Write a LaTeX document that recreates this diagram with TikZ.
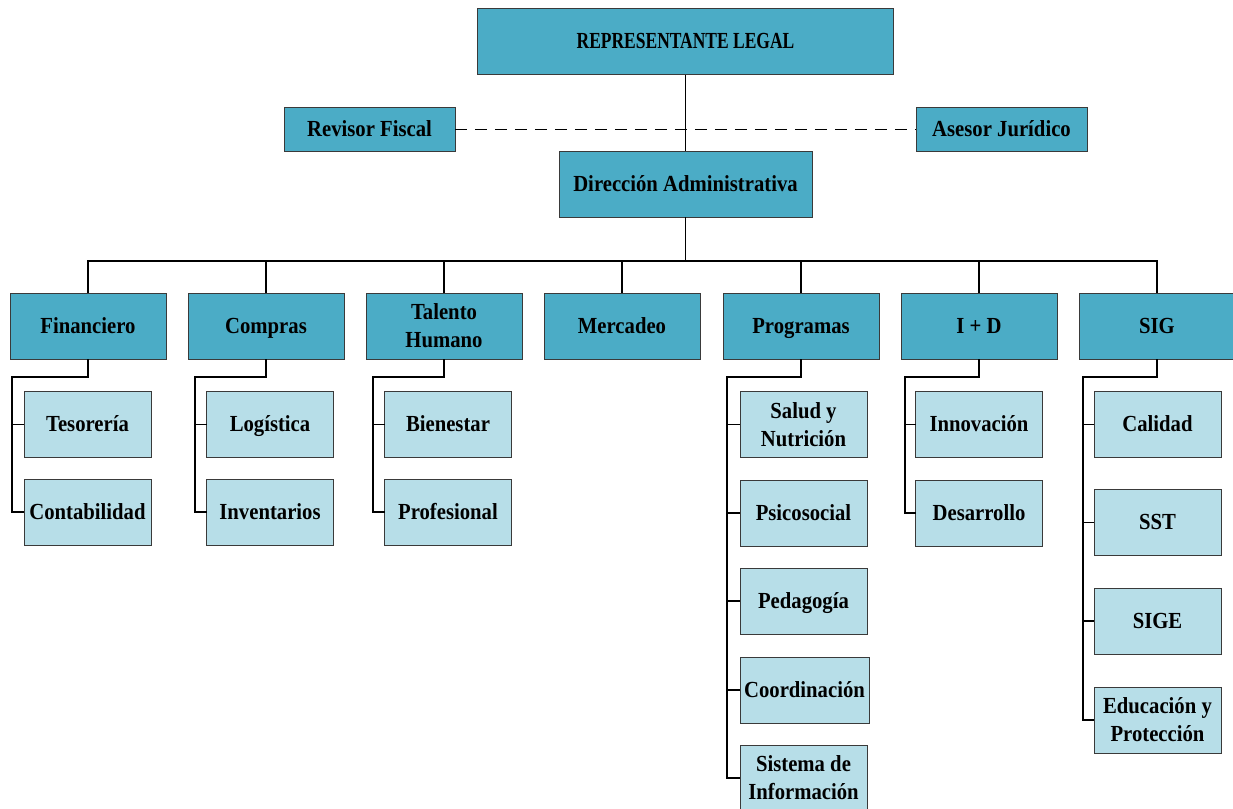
\documentclass[tikz,border=0pt]{standalone}
\usepackage{fontspec}
\setmainfont{Liberation Serif}[FakeStretch=0.9]
\newfontfamily\capsfont{Liberation Serif}[FakeStretch=0.76]
\definecolor{deptfill}{HTML}{4BACC6}
\definecolor{unitfill}{HTML}{B7DEE8}
\definecolor{boxline}{HTML}{3A3A3A}
\begin{document}
\begin{tikzpicture}[x=1pt,y=-1pt,
  box/.style={draw=boxline, line width=0.9pt, inner sep=2pt, outer sep=0pt,
    align=center, font=\fontsize{23}{28}\selectfont\bfseries, text=black,
    text height=18pt, text depth=4pt},
  twoline/.style={text height=, text depth=},
  dept/.style={box, fill=deptfill, minimum width=156pt, minimum height=66pt},
  unit/.style={box, fill=unitfill, minimum width=127pt, minimum height=66pt},
  side/.style={box, fill=deptfill, minimum width=171pt, minimum height=44pt},
  link/.style={line width=1.6pt, black},
  staff/.style={line width=1pt, black, dash pattern=on 12pt off 8pt}]
\useasboundingbox (0,0) rectangle (1233,808);

% top of the chart
\node[box, fill=deptfill, minimum width=416pt, minimum height=66pt,
  font=\fontsize{23}{28}\capsfont\bfseries] (rl) at (685.5,41.5) {REPRESENTANTE LEGAL};
\node[side] (rf) at (369.5,129) {Revisor Fiscal};
\node[side] (aj) at (1001.5,129) {Asesor Jurídico};
\node[box, fill=deptfill, minimum width=253pt, minimum height=66pt] (da) at (685.5,184) {Dirección Administrativa};

\draw[staff] (rf.east) -- (aj.west);
\draw[link] (rl.south) -- (da.north);

% departments
\node[dept] (fin)  at (88,326)   {Financiero};
\node[dept] (com)  at (266,326)  {Compras};
\node[dept, twoline] (tal) at (444,326) {Talento\\Humano};
\node[dept] (mer)  at (622,326)  {Mercadeo};
\node[dept] (prog) at (801,326)  {Programas};
\node[dept] (id)   at (979,326)  {I + D};
\node[dept] (sig)  at (1157,326) {SIG};

\coordinate (bus) at (685.5,261);
\draw[link] (da.south) -- (bus);
\draw[link] (fin.north) |- (bus) -| (sig.north);
\foreach \d in {com,tal,mer,prog,id} \draw[link] (\d.north) -- (\d.north |- bus);

% Financiero
\node[unit] (tes)  at (87.5,424.5) {Tesorería};
\node[unit] (cont) at (87.5,512)   {Contabilidad};
\coordinate (finbr) at (12,377);
\draw[link] (fin.south) |- (finbr) |- (cont.west);
\draw[link] (finbr |- tes.west) -- (tes.west);

% Compras
\node[unit] (log) at (270,424.5) {Logística};
\node[unit] (inv) at (270,512)   {Inventarios};
\coordinate (combr) at (195,377);
\draw[link] (com.south) |- (combr) |- (inv.west);
\draw[link] (combr |- log.west) -- (log.west);

% Talento Humano
\node[unit] (bie) at (448,424.5) {Bienestar};
\node[unit] (pro) at (448,512)   {Profesional};
\coordinate (talbr) at (373,377);
\draw[link] (tal.south) |- (talbr) |- (pro.west);
\draw[link] (talbr |- bie.west) -- (bie.west);

% Programas
\node[unit, twoline] (sal) at (803.5,424.5) {Salud y\\Nutrición};
\node[unit] (psi) at (803.5,513)   {Psicosocial};
\node[unit] (ped) at (803.5,601)   {Pedagogía};
\node[unit, minimum width=129pt] (coo) at (804.5,690) {Coordinación};
\node[unit, twoline] (sis) at (803.5,778) {Sistema de\\Información};
\coordinate (progbr) at (727,377);
\draw[link] (prog.south) |- (progbr) |- (sis.west);
\foreach \u in {sal,psi,ped,coo} \draw[link] (progbr |- \u.west) -- (\u.west);

% I + D
\node[unit] (inn) at (979,424.5) {Innovación};
\node[unit] (des) at (979,513)   {Desarrollo};
\coordinate (idbr) at (905,377);
\draw[link] (id.south) |- (idbr) |- (des.west);
\draw[link] (idbr |- inn.west) -- (inn.west);

% SIG
\node[unit] (cal) at (1157.5,424.5) {Calidad};
\node[unit] (sst) at (1157.5,522.5) {SST};
\node[unit] (sge) at (1157.5,621)   {SIGE};
\node[unit, twoline] (edu) at (1157.5,720) {Educación y\\Protección};
\coordinate (sigbr) at (1083,377);
\draw[link] (sig.south) |- (sigbr) |- (edu.west);
\foreach \u in {cal,sst,sge} \draw[link] (sigbr |- \u.west) -- (\u.west);
\end{tikzpicture}
\end{document}
